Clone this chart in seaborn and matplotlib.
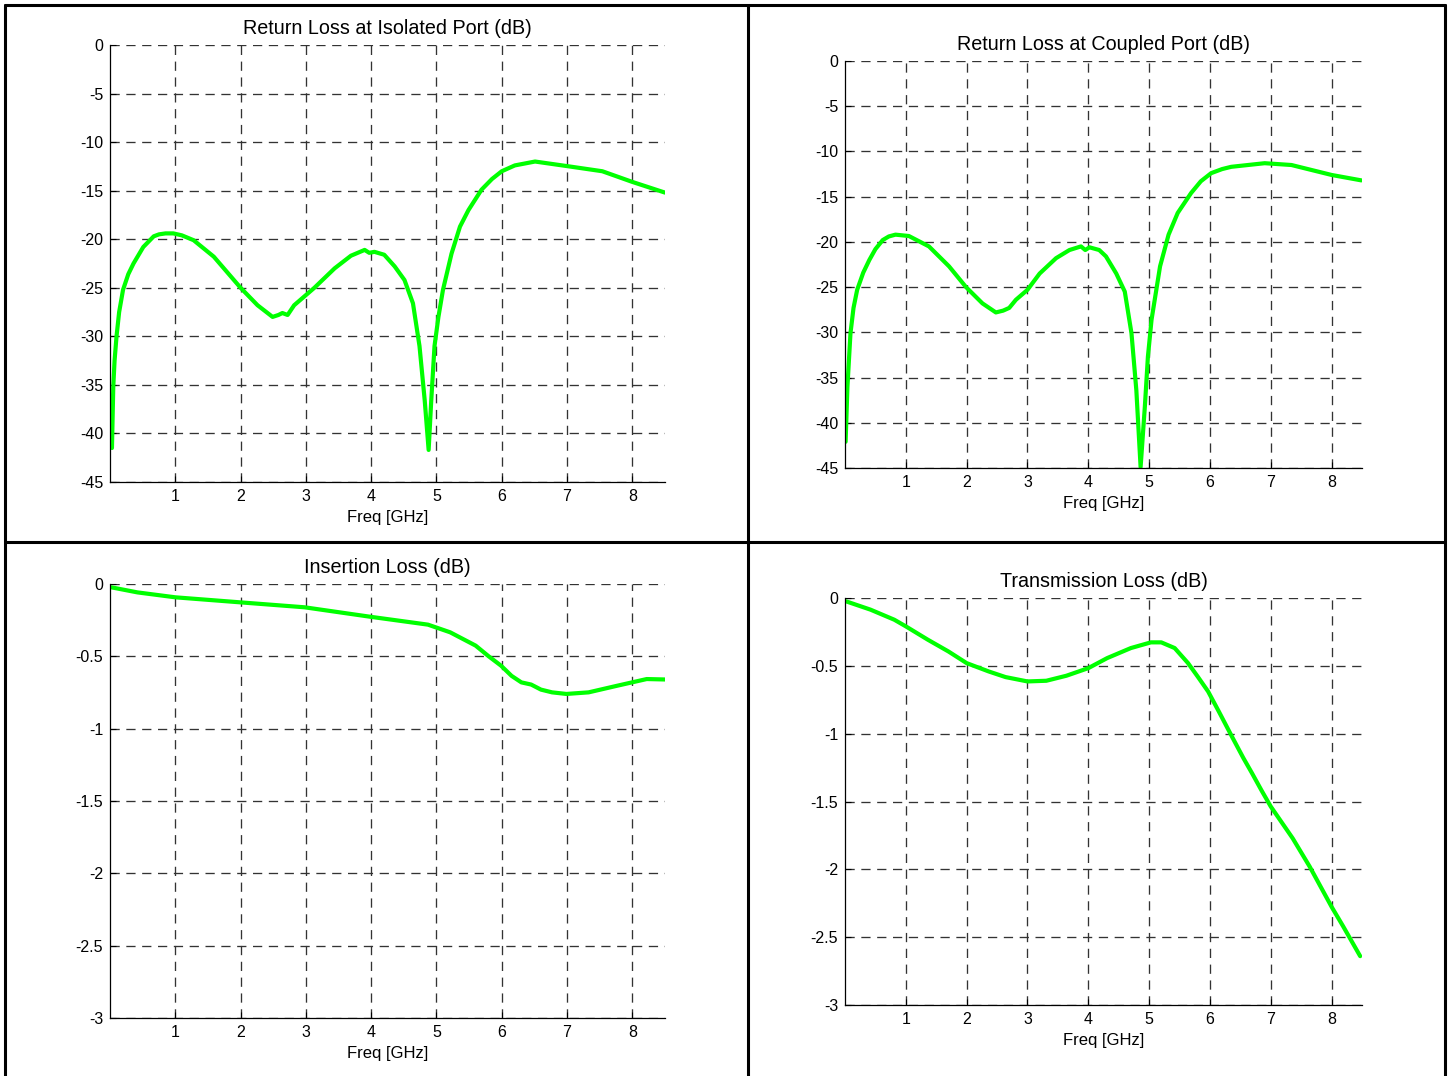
import numpy as np
import pandas as pd
import matplotlib
matplotlib.use("Agg")
import matplotlib.pyplot as plt
import seaborn as sns
from matplotlib.lines import Line2D

# ---------------- data ----------------
freq_iso = [0.03, 0.05, 0.07, 0.10, 0.14, 0.20, 0.28, 0.36, 0.51, 0.67, 0.75, 0.85, 0.97,
            1.10, 1.28, 1.59, 2.00, 2.26, 2.49, 2.58, 2.64, 2.72, 2.82, 3.13, 3.44, 3.69,
            3.90, 3.97, 4.05, 4.20, 4.36, 4.51, 4.64, 4.74, 4.82, 4.88, 4.92, 4.97, 5.03,
            5.10, 5.23, 5.36, 5.49, 5.69, 5.85, 6.00, 6.20, 6.51, 7.03, 7.54, 8.00, 8.50]
rl_iso = [-41.5, -35.2, -32.5, -30.0, -27.5, -25.2, -23.6, -22.5, -20.8, -19.7, -19.5, -19.4, -19.4,
          -19.6, -20.1, -21.8, -25.0, -26.8, -28.0, -27.8, -27.6, -27.8, -26.8, -25.0, -23.0, -21.7,
          -21.1, -21.4, -21.3, -21.6, -22.8, -24.2, -26.6, -31.0, -36.6, -41.7, -36.6, -31.0, -28.0,
          -25.2, -21.5, -18.7, -17.0, -14.9, -13.8, -13.0, -12.4, -12.0, -12.5, -13.0, -14.1, -15.2]

freq_cpl = [0.01, 0.04, 0.09, 0.14, 0.20, 0.30, 0.40, 0.50, 0.62, 0.72, 0.83, 1.05, 1.38,
            1.71, 1.99, 2.26, 2.48, 2.60, 2.70, 2.81, 3.00, 3.20, 3.47, 3.69, 3.88, 3.95,
            4.02, 4.18, 4.29, 4.46, 4.60, 4.71, 4.79, 4.86, 4.93, 4.98, 5.04, 5.18, 5.32,
            5.47, 5.69, 5.85, 6.02, 6.20, 6.35, 6.90, 7.34, 8.00, 8.49]
rl_cpl = [-42.1, -36.0, -30.1, -27.3, -25.3, -23.4, -22.0, -20.8, -19.8, -19.4, -19.2, -19.35, -20.5,
          -22.7, -25.0, -26.8, -27.8, -27.6, -27.3, -26.4, -25.3, -23.5, -21.8, -20.9, -20.5, -20.9,
          -20.6, -20.9, -21.6, -23.5, -25.5, -30.1, -36.4, -44.9, -38.2, -32.7, -28.6, -22.7, -19.2,
          -16.8, -14.6, -13.3, -12.4, -11.95, -11.7, -11.3, -11.5, -12.6, -13.2]

freq_ins = [0.02, 0.42, 1.00, 2.00, 2.98, 3.98, 4.87, 5.21, 5.60, 5.80, 5.99, 6.15,
            6.30, 6.45, 6.60, 6.77, 6.99, 7.33, 7.77, 8.22, 8.50]
il_ins = [-0.023, -0.058, -0.092, -0.127, -0.161, -0.226, -0.281, -0.334, -0.426, -0.500,
          -0.565, -0.635, -0.680, -0.695, -0.730, -0.749, -0.760, -0.749, -0.703, -0.657, -0.660]

freq_tr = [0.02, 0.42, 0.81, 1.00, 1.36, 1.70, 2.00, 2.36, 2.64, 3.00, 3.31, 3.64,
           4.00, 4.31, 4.70, 5.03, 5.20, 5.42, 5.64, 5.80, 5.97, 6.15, 6.36, 6.55,
           6.69, 6.85, 7.00, 7.36, 7.64, 8.00, 8.19, 8.47]
tl_tr = [-0.025, -0.086, -0.160, -0.209, -0.307, -0.394, -0.480, -0.541, -0.583, -0.615,
         -0.610, -0.573, -0.517, -0.443, -0.369, -0.327, -0.327, -0.369, -0.480, -0.580,
         -0.689, -0.840, -1.020, -1.180, -1.290, -1.420, -1.537, -1.771, -1.980, -2.276,
         -2.420, -2.640]

x_ticks = [1, 2, 3, 4, 5, 6, 7, 8]
x_ticklabels = ["1", "2", "3", "4", "5", "6", "7", "8"]
rl_ticks = [-45, -40, -35, -30, -25, -20, -15, -10, -5, 0]
rl_ticklabels = ["-45", "-40", "-35", "-30", "-25", "-20", "-15", "-10", "-5", "0"]
loss_ticks = [-3, -2.5, -2, -1.5, -1, -0.5, 0]
loss_ticklabels = ["-3", "-2.5", "-2", "-1.5", "-1", "-0.5", "0"]

titles = ["Return Loss at Isolated Port (dB)", "Return Loss at Coupled Port (dB)",
          "Insertion Loss (dB)", "Transmission Loss (dB)"]
x_label = "Freq [GHz]"

# ---------------- style ----------------
sns.set_theme(style="white")
plt.rcParams["font.family"] = ["Liberation Sans", "DejaVu Sans"]

W, H = 1449, 1076
fig = plt.figure(figsize=(W / 100, H / 100), dpi=100)
fig.patch.set_facecolor("white")

def frac(left, top, right, bottom):
    return [left / W, 1 - bottom / H, (right - left) / W, (bottom - top) / H]

positions = [frac(110, 45, 665, 482), frac(845, 61, 1362, 468),
             frac(110, 584, 665, 1018), frac(845, 598, 1362, 1005)]

panels = [
    (freq_iso, rl_iso, (-45, 0), rl_ticks, rl_ticklabels),
    (freq_cpl, rl_cpl, (-45, 0), rl_ticks, rl_ticklabels),
    (freq_ins, il_ins, (-3, 0), loss_ticks, loss_ticklabels),
    (freq_tr, tl_tr, (-3, 0), loss_ticks, loss_ticklabels),
]

for pos, title, (fx, fy, ylim, yt, ytl) in zip(positions, titles, panels):
    ax = fig.add_axes(pos)
    df = pd.DataFrame({"Freq": fx, "Value": fy})
    sns.lineplot(data=df, x="Freq", y="Value", ax=ax, color="#00ff00",
                 linewidth=3.0, sort=False, estimator=None)
    ax.set_xlim(0, 8.5)
    ax.set_ylim(*ylim)
    ax.set_xticks(x_ticks)
    ax.set_xticklabels(x_ticklabels)
    ax.set_yticks(yt)
    ax.set_yticklabels(ytl)
    ax.set_axisbelow(True)
    ax.grid(True, color="#333333", linestyle=(0, (7, 5)), linewidth=0.95)
    for s in ("top", "right"):
        ax.spines[s].set_visible(False)
    for s in ("left", "bottom"):
        ax.spines[s].set_color("black")
        ax.spines[s].set_linewidth(0.9)
    ax.tick_params(direction="in", length=4, width=0.8, colors="black",
                   labelsize=11.5, pad=5, bottom=True, left=True)
    ax.set_title(title, fontsize=14.2, pad=8, color="black")
    ax.set_xlabel(x_label, fontsize=12, labelpad=4.5, color="black")
    ax.set_ylabel("")
    ax.set_facecolor("white")

# frame lines of the 2x2 table
def fline(x0, y0, x1, y1):
    fig.add_artist(Line2D([x0 / W, x1 / W], [1 - y0 / H, 1 - y1 / H],
                          transform=fig.transFigure, color="black", linewidth=2.2))

fline(5, 5, 1445, 5)        # top
fline(5, 5, 5, H)           # left
fline(1445, 5, 1445, H)     # right
fline(748, 5, 748, H)       # vertical divider
fline(5, 542, 1445, 542)    # horizontal divider

fig.savefig("out.png", dpi=100, facecolor="white")
